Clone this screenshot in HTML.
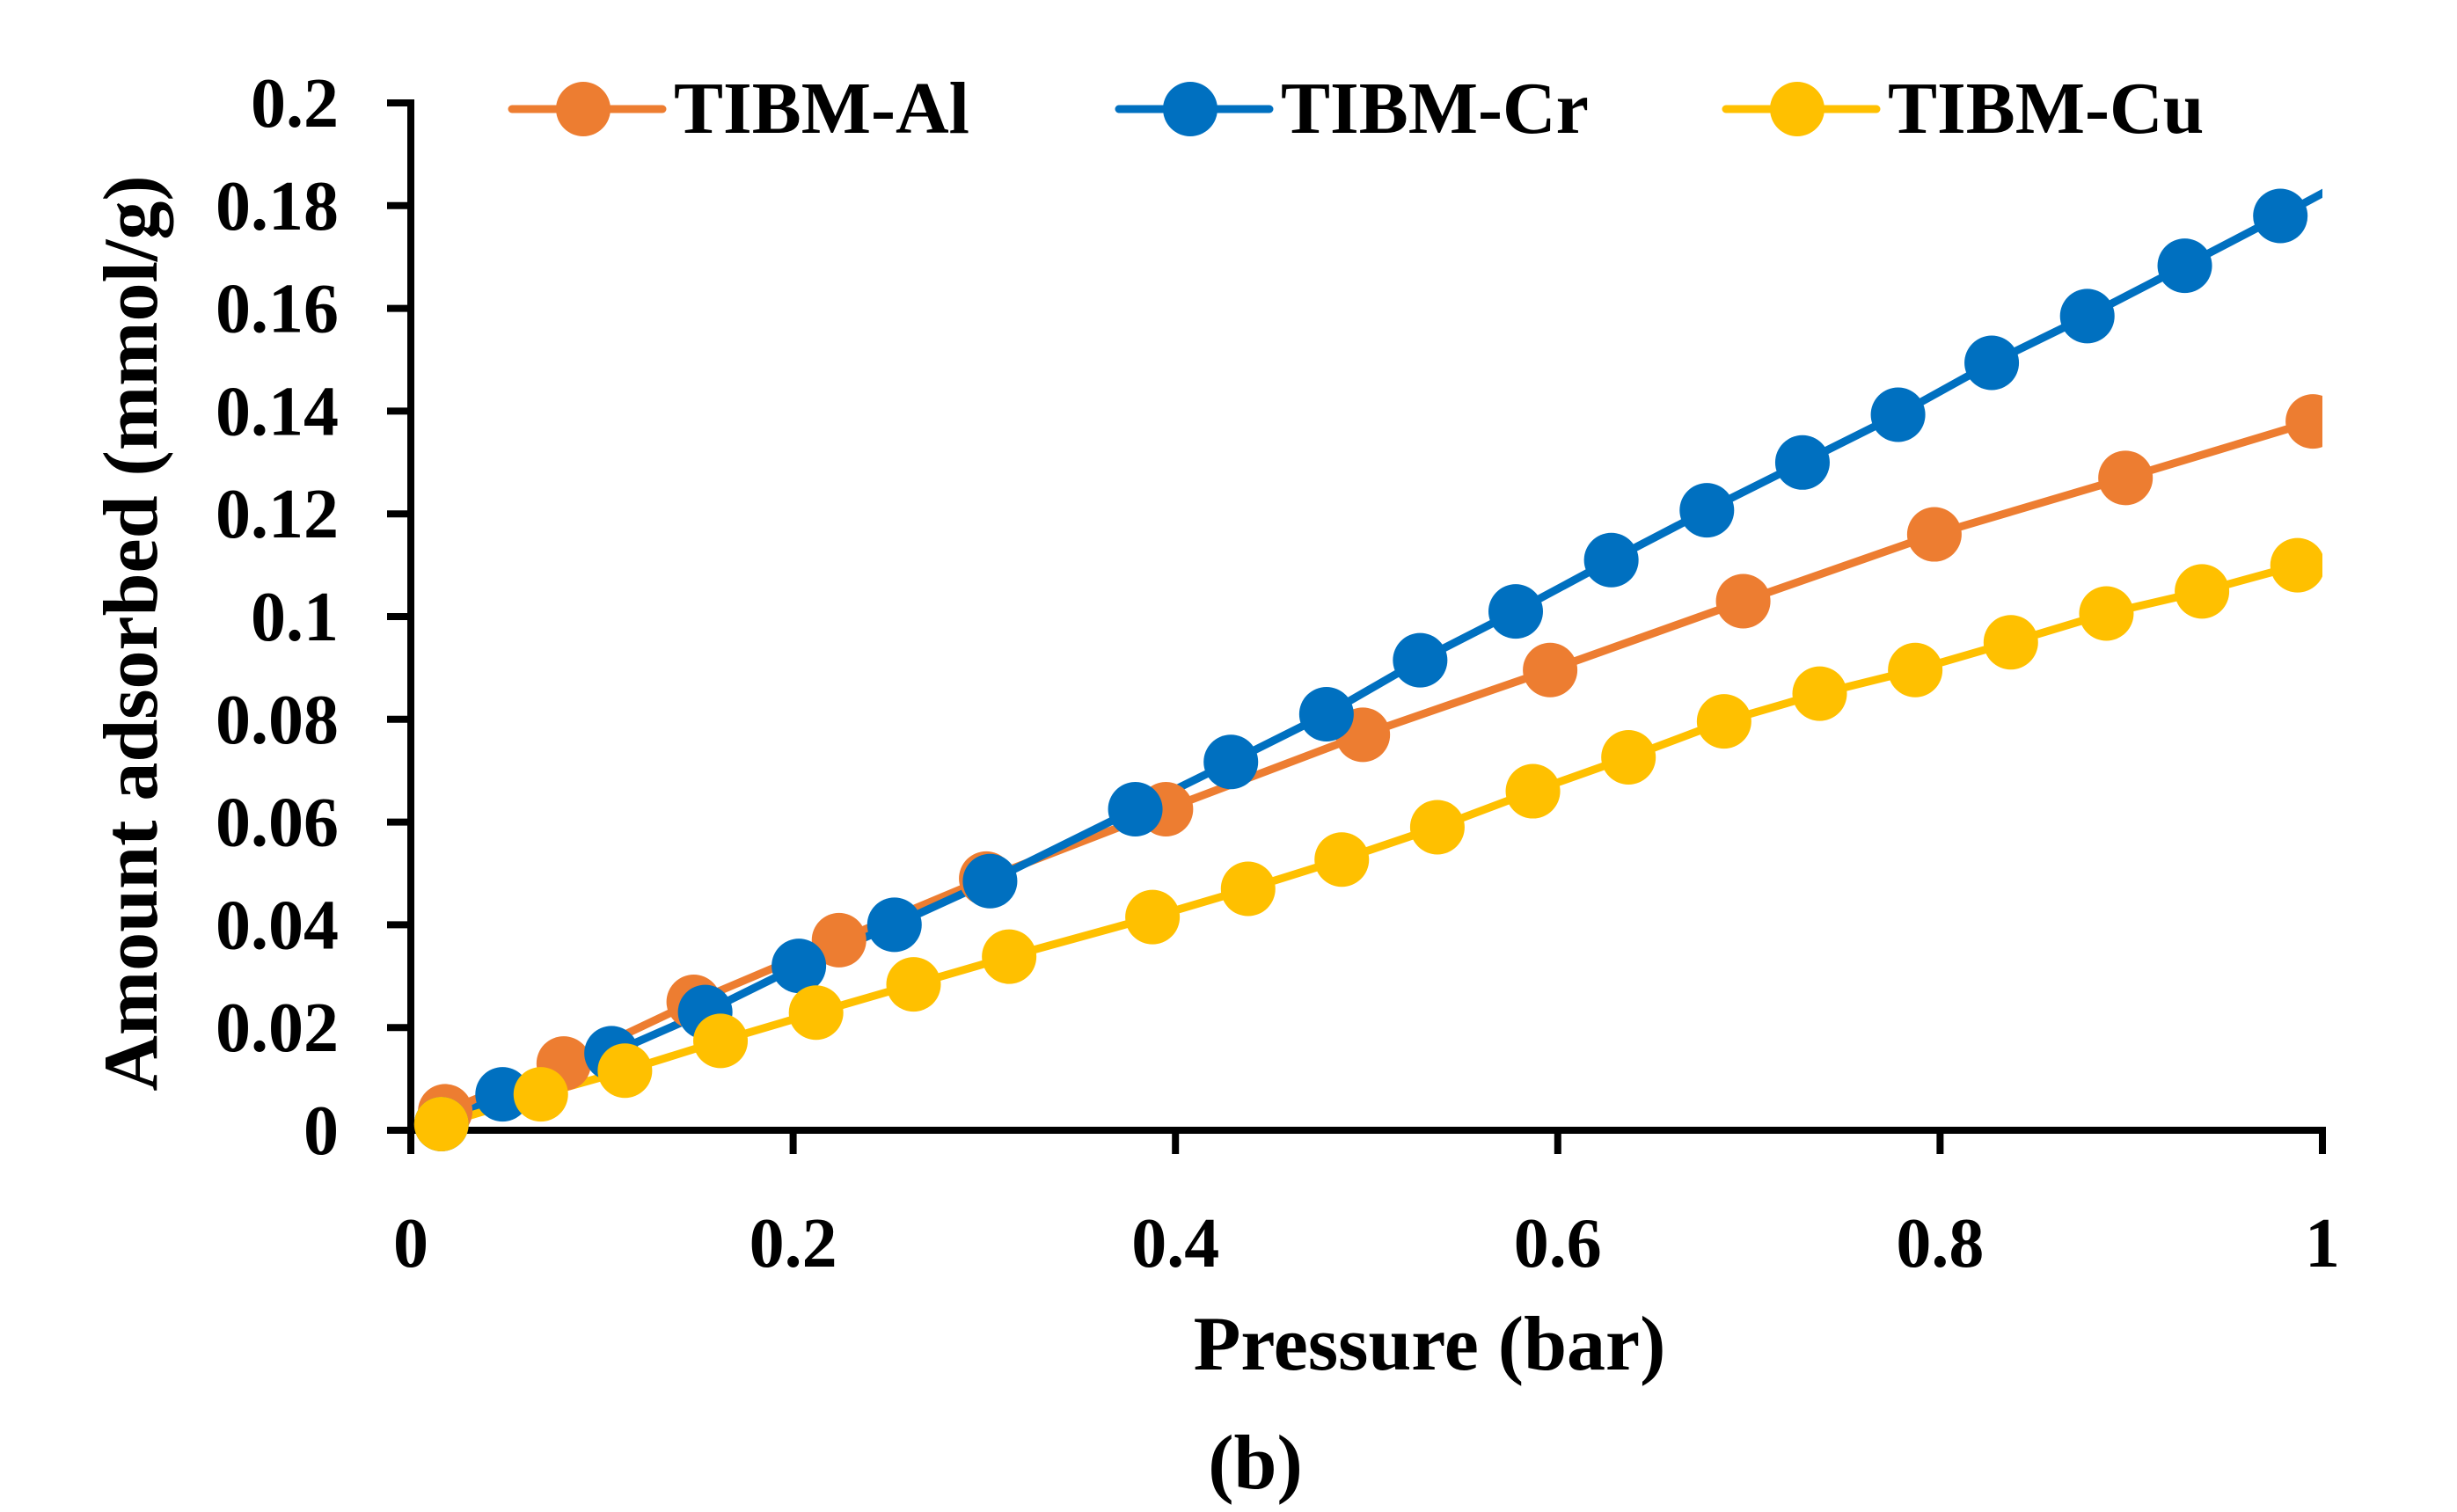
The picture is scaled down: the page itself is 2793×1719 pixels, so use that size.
<!DOCTYPE html>
<html><head><meta charset="utf-8"><style>
html,body{margin:0;padding:0;background:#fff;}
svg{display:block;}
text{font-family:"Liberation Serif",serif;font-weight:bold;fill:#000;}
</style></head><body>
<svg id="chart" width="2793" height="1719" viewBox="0 0 2793 1719" xmlns="http://www.w3.org/2000/svg">
<defs><clipPath id="plotclip"><rect x="430" y="60" width="2210" height="1290"/></clipPath></defs>
<g id="axes"></g>
<g id="series" clip-path="url(#plotclip)"></g>
<g id="legend"></g>
</svg>
<script>
const xTicks = [0, 0.2, 0.4, 0.6, 0.8, 1];
const xTickLabels = ["0", "0.2", "0.4", "0.6", "0.8", "1"];
const yTicks = [0, 0.02, 0.04, 0.06, 0.08, 0.1, 0.12, 0.14, 0.16, 0.18, 0.2];
const yTickLabels = ["0", "0.02", "0.04", "0.06", "0.08", "0.1", "0.12", "0.14", "0.16", "0.18", "0.2"];
const seriesNames = ["TIBM-Al", "TIBM-Cr", "TIBM-Cu"];
const alX = [0.018,0.08,0.148,0.224,0.301,0.395,0.498,0.596,0.697,0.797,0.897,0.995];
const alY = [0.0037,0.013,0.025,0.037,0.049,0.0625,0.077,0.0896,0.103,0.116,0.127,0.138];
const crX = [0.016,0.048,0.105,0.154,0.203,0.253,0.303,0.379,0.429,0.479,0.528,0.578,0.628,0.678,0.728,0.778,0.827,0.877,0.928,0.978,1.028];
const crY = [0.0012,0.007,0.015,0.023,0.032,0.040,0.0485,0.0625,0.0717,0.081,0.0915,0.101,0.111,0.1207,0.130,0.1393,0.1494,0.1585,0.1683,0.178,0.188];
const cuX = [0.016,0.068,0.112,0.162,0.212,0.263,0.313,0.388,0.438,0.487,0.537,0.587,0.637,0.687,0.737,0.787,0.837,0.887,0.937,0.987];
const cuY = [0.0012,0.007,0.0116,0.0174,0.0229,0.0284,0.0338,0.0415,0.047,0.0527,0.059,0.066,0.0726,0.0796,0.085,0.0896,0.095,0.1006,0.1049,0.110];

const NS = "http://www.w3.org/2000/svg";
const X0 = 467, X1 = 2640, Y0 = 1285, Y1 = 117;
function sx(v){ return X0 + v * (X1 - X0); }
function sy(v){ return Y0 - v / 0.2 * (Y0 - Y1); }
function mk(tag, attrs, parent){
  const e = document.createElementNS(NS, tag);
  for (const k in attrs) e.setAttribute(k, attrs[k]);
  parent.appendChild(e);
  return e;
}
const axes = document.getElementById('axes');
const seriesG = document.getElementById('series');
const legend = document.getElementById('legend');

let el = mk('line', {x1:X0, y1:Y0, x2:X1+4, y2:Y0, stroke:'#000', 'stroke-width':8}, axes);


el = mk('line', {x1:X0, y1:Y1-4, x2:X0, y2:Y0+4, stroke:'#000', 'stroke-width':8}, axes);



yTicks.forEach((v, i) => {
  const t = mk('line', {x1:440, y1:sy(v), x2:X0, y2:sy(v), stroke:'#000', 'stroke-width':8}, axes);
  
  
  const l = mk('text', {x:385, y:sy(v)+27, 'text-anchor':'end', 'font-size':80}, axes);
  l.textContent = yTickLabels[i];
  
  
});
xTicks.forEach((v, i) => {
  const t = mk('line', {x1:sx(v), y1:Y0, x2:sx(v), y2:Y0+27, stroke:'#000', 'stroke-width':8}, axes);
  
  
  const l = mk('text', {x:sx(v), y:1440, 'text-anchor':'middle', 'font-size':80}, axes);
  l.textContent = xTickLabels[i];
  
  
});
el = mk('text', {x:1625, y:1557, 'text-anchor':'middle', 'font-size':88}, axes);
el.textContent = 'Pressure (bar)';


el = mk('text', {x:1427, y:1692, 'text-anchor':'middle', 'font-size':88}, axes);
el.textContent = '(b)';


el = mk('text', {x:0, y:0, 'text-anchor':'middle', 'font-size':88, transform:'translate(178,720) rotate(-90)'}, axes);
el.textContent = 'Amount adsorbed (mmol/g)';



const colors = ['#ED7D31', '#0070C0', '#FFC000'];
const allX = [alX, crX, cuX];
const allY = [alY, crY, cuY];
const keys = ['al', 'cr', 'cu'];
allX.forEach((xs, s) => {
  const ys = allY[s];
  const pts = xs.map((x, i) => sx(x) + ',' + sy(ys[i])).join(' ');
  const pl = mk('polyline', {points:pts, fill:'none', stroke:colors[s], 'stroke-width':9, 'stroke-linejoin':'round'}, seriesG);
  
  
});
allX.forEach((xs, s) => {
  const ys = allY[s];
  xs.forEach((x, i) => {
    const c = mk('circle', {cx:sx(x), cy:sy(ys[i]), r:31, fill:colors[s]}, seriesG);
    
    
  });
});

const legX = [582, 1272, 1962];
seriesNames.forEach((n, s) => {
  const g = mk('g', {}, legend);
  
  
  mk('line', {x1:legX[s], y1:124, x2:legX[s]+171, y2:124, stroke:colors[s], 'stroke-width':9, 'stroke-linecap':'round'}, g);
  mk('circle', {cx:legX[s]+81, cy:124, r:31, fill:colors[s]}, g);
  const t = mk('text', {x:legX[s]+184, y:151, 'font-size':84}, g);
  t.textContent = n;
});
</script>
</body></html>
